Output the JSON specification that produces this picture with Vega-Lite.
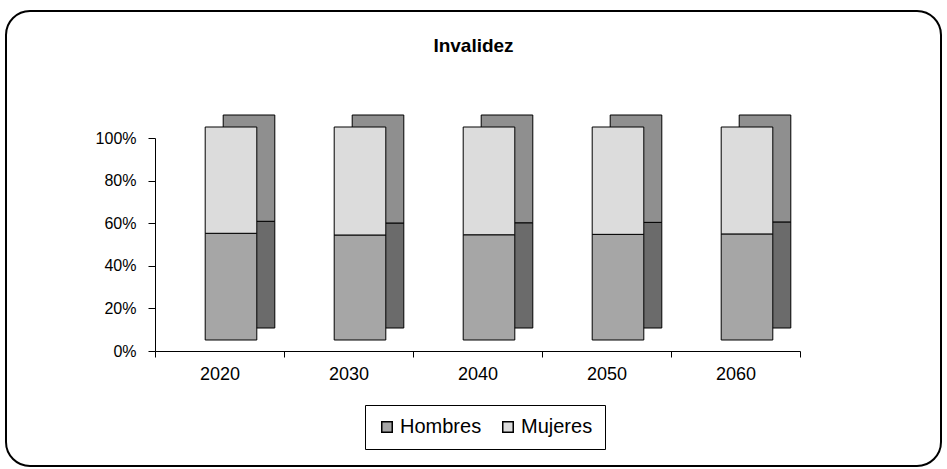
{
  "$schema": "https://vega.github.io/schema/vega-lite/v6.json",
  "autosize": "none",
  "width": 935,
  "height": 455,
  "padding": {"left": 6, "top": 11, "right": 6, "bottom": 3},
  "background": "white",
  "config": {
    "view": {"stroke": "black", "strokeWidth": 2, "cornerRadius": 24},
    "font": "Liberation Sans"
  },
  "title": {
    "text": "Invalidez",
    "fontSize": 19,
    "fontWeight": "bold",
    "font": "Liberation Sans",
    "color": "black",
    "anchor": "middle",
    "orient": "top",
    "offset": -45
  },
  "data": {
    "values": [
      {"anio": "2020", "sexo": "Hombres", "valor": 50.1},
      {"anio": "2020", "sexo": "Mujeres", "valor": 49.9},
      {"anio": "2030", "sexo": "Hombres", "valor": 49.3},
      {"anio": "2030", "sexo": "Mujeres", "valor": 50.7},
      {"anio": "2040", "sexo": "Hombres", "valor": 49.4},
      {"anio": "2040", "sexo": "Mujeres", "valor": 50.6},
      {"anio": "2050", "sexo": "Hombres", "valor": 49.6},
      {"anio": "2050", "sexo": "Mujeres", "valor": 50.4},
      {"anio": "2060", "sexo": "Hombres", "valor": 49.8},
      {"anio": "2060", "sexo": "Mujeres", "valor": 50.2}
    ]
  },
  "encoding": {
    "x": {
      "field": "anio",
      "type": "ordinal",
      "scale": {"range": [149, 794], "paddingInner": 0, "paddingOuter": 0},
      "axis": {
        "orient": "bottom",
        "offset": -115,
        "tickBand": "extent",
        "labelAngle": 0,
        "labelFontSize": 18,
        "labelColor": "black",
        "domainColor": "black",
        "tickColor": "black",
        "tickSize": 6,
        "labelPadding": 8,
        "title": null
      }
    },
    "y": {
      "field": "valor",
      "type": "quantitative",
      "stack": "normalize",
      "scale": {"range": [340, 127]},
      "axis": {
        "values": [0, 0.2, 0.4, 0.6, 0.8, 1],
        "format": ".0%",
        "offset": -149,
        "grid": false,
        "domainColor": "black",
        "tickColor": "black",
        "tickSize": 7,
        "labelFontSize": 16,
        "labelColor": "black",
        "labelPadding": 12,
        "title": null
      }
    },
    "order": {"field": "sexo", "sort": "ascending"}
  },
  "layer": [
    {
      "mark": {"type": "bar", "width": {"band": 0.4}, "xOffset": 29.5, "x2Offset": 29.5, "yOffset": -23, "y2Offset": -23, "stroke": "black", "strokeWidth": 1},
      "encoding": {
        "color": {
          "field": "sexo",
          "type": "nominal",
          "scale": {"domain": ["Hombres", "Mujeres"], "range": ["#6b6b6b", "#8f8f8f"]},
          "legend": null
        }
      }
    },
    {
      "mark": {"type": "bar", "width": {"band": 0.4}, "xOffset": 11.5, "x2Offset": 11.5, "yOffset": -11, "y2Offset": -11, "stroke": "black", "strokeWidth": 1},
      "encoding": {
        "color": {
          "field": "sexo",
          "type": "nominal",
          "scale": {"domain": ["Hombres", "Mujeres"], "range": ["#a6a6a6", "#dcdcdc"]},
          "legend": {
            "orient": "none",
            "legendX": 359,
            "legendY": 394,
            "direction": "horizontal",
            "title": null,
            "symbolType": "square",
            "symbolSize": 110,
            "symbolStrokeColor": "black",
            "symbolStrokeWidth": 1.5,
            "labelFontSize": 20,
            "labelOffset": 3,
            "labelColor": "black",
            "strokeColor": "black",
            "fillColor": "white",
            "padding": 12,
            "columnPadding": 16
          }
        }
      }
    }
  ],
  "resolve": {"scale": {"color": "independent"}}
}
